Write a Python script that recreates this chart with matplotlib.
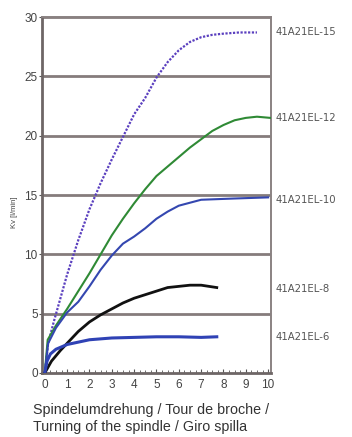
import matplotlib
matplotlib.use("Agg")
import matplotlib.pyplot as plt
import matplotlib.transforms as mtransforms
from matplotlib.ticker import MultipleLocator

plt.rcParams["font.family"] = ["Liberation Sans", "DejaVu Sans"]

# readings
x_15 = [0, 0.15, 0.4, 0.7, 1.0, 1.5, 2.0, 2.5, 3.0, 3.5, 4.0, 4.5, 5.0, 5.5, 6.0, 6.5, 7.0, 7.5, 8.0, 8.7, 9.5]
y_15 = [0, 2.5, 4.3, 6.3, 8.3, 11.2, 13.8, 16.0, 18.0, 19.9, 21.8, 23.2, 24.9, 26.2, 27.2, 27.9, 28.3, 28.5, 28.6, 28.7, 28.7]

x_12 = [0, 0.13, 0.5, 1.0, 1.5, 2.0, 2.5, 3.0, 3.5, 4.0, 4.5, 5.0, 5.5, 6.0, 6.5, 7.0, 7.5, 8.0, 8.5, 9.0, 9.5, 10.1]
y_12 = [0, 2.8, 4.0, 5.4, 6.9, 8.4, 10.0, 11.6, 13.0, 14.3, 15.5, 16.6, 17.4, 18.2, 19.0, 19.7, 20.4, 20.9, 21.3, 21.5, 21.6, 21.5]

x_10 = [0, 0.15, 0.5, 1.0, 1.5, 2.0, 2.5, 3.0, 3.5, 4.0, 4.5, 5.0, 5.5, 6.0, 7.0, 8.4, 10.0]
y_10 = [0, 2.5, 3.8, 5.1, 6.0, 7.3, 8.7, 9.9, 10.9, 11.5, 12.2, 13.0, 13.6, 14.1, 14.6, 14.7, 14.8]

x_8 = [0, 0.3, 0.7, 1.0, 1.5, 2.0, 2.5, 3.0, 3.5, 4.0, 4.5, 5.0, 5.5, 6.0, 6.5, 7.0, 7.7]
y_8 = [0, 1.0, 1.9, 2.5, 3.5, 4.3, 4.9, 5.4, 5.9, 6.3, 6.6, 6.9, 7.2, 7.3, 7.4, 7.4, 7.2]

x_6 = [0, 0.1, 0.25, 0.5, 1.0, 1.5, 2.0, 3.0, 4.0, 5.0, 6.0, 7.0, 7.7]
y_6 = [0, 1.0, 1.6, 2.0, 2.4, 2.6, 2.8, 2.95, 3.0, 3.05, 3.05, 3.0, 3.05]

names = ["41A21EL-15", "41A21EL-12", "41A21EL-10", "41A21EL-8", "41A21EL-6"]
label_y = [28.7, 21.5, 14.6, 7.1, 3.0]

fig = plt.figure(figsize=(3.52, 4.37), dpi=100)
ax = fig.add_axes([0.119, 0.1465, 0.651, 0.8145])

for yv in range(5, 31, 5):
    ax.axhline(yv, color="#857c7c", linewidth=2.0, zorder=1)

ax.plot(x_15, y_15, color="#5a3fbf", linewidth=1.6, linestyle=(0, (1, 0.7)), zorder=3)
ax.plot(x_12, y_12, color="#2f8a35", linewidth=1.5, zorder=3)
ax.plot(x_10, y_10, color="#3447b0", linewidth=1.5, zorder=3)
ax.plot(x_8, y_8, color="#111111", linewidth=2.0, zorder=3)
ax.plot(x_6, y_6, color="#2f42b5", linewidth=2.2, zorder=3)

ax.set_xlim(-0.13, 10.13)
ax.set_ylim(0, 30)
ax.set_xticks(range(0, 11))
ax.set_yticks(range(0, 31, 5))
ax.xaxis.set_minor_locator(MultipleLocator(0.25))
ax.tick_params(axis="x", which="major", direction="in", length=3, width=0.8,
               color="#555555", labelsize=8.5, labelcolor="#444444", pad=4)
ax.tick_params(axis="x", which="minor", direction="in", length=2, width=0.6, color="#555555")
ax.tick_params(axis="y", direction="out", length=2, width=0.8, color="#555555",
               labelsize=8.5, labelcolor="#444444", pad=1)

for side in ["left", "bottom"]:
    ax.spines[side].set_color("#6e6666")
    ax.spines[side].set_linewidth(2.0)
for side in ["top", "right"]:
    ax.spines[side].set_color("#8a8282")
    ax.spines[side].set_linewidth(1.4)

trans = mtransforms.blended_transform_factory(ax.transAxes, ax.transData)
for name, yv in zip(names, label_y):
    ax.text(1.02, yv, name, transform=trans, ha="left", va="center",
            fontsize=7.3, color="#555555", family="DejaVu Sans", clip_on=False)

fig.text(0.04, 0.515, "Kv [l/min]", rotation=90, ha="center", va="center",
         fontsize=5.5, color="#444444")

fig.text(0.094, 0.062, "Spindelumdrehung / Tour de broche /", ha="left", va="center",
         fontsize=10.3, color="#333333")
fig.text(0.094, 0.023, "Turning of the spindle / Giro spilla", ha="left", va="center",
         fontsize=10.3, color="#333333")

fig.savefig("out.png", dpi=100)
